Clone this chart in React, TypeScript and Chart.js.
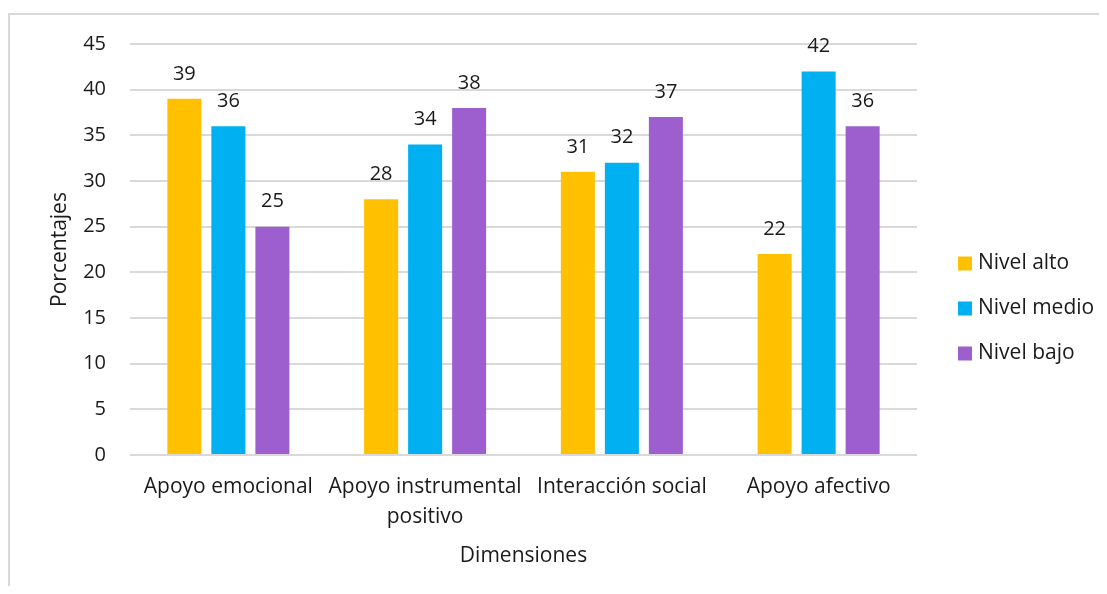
import React, { useEffect, useRef } from "react";
import { Chart, registerables } from "chart.js";

Chart.register(...registerables);

// Survey dimensions and the share (%) of respondents at each level
const categories: (string | string[])[] = [
  "Apoyo emocional",
  ["Apoyo instrumental", "positivo"],
  "Interacción social",
  "Apoyo afectivo",
];
const nivelAlto = [39, 28, 31, 22];
const nivelMedio = [36, 34, 32, 42];
const nivelBajo = [25, 38, 37, 36];
const seriesNames = ["Nivel alto", "Nivel medio", "Nivel bajo"];
const seriesColors = ["#FFC000", "#00B0F0", "#9E5FCE"];
const yTicks = { min: 0, max: 45, step: 5 };

const FONT = "'Open Sans', 'Liberation Sans', sans-serif";
const TEXT = "#1a1a1a";

// Draws the value above every bar
const valueLabels = {
  id: "valueLabels",
  afterDatasetsDraw(chart: Chart) {
    const ctx = chart.ctx;
    ctx.save();
    ctx.font = `20px ${FONT}`;
    ctx.fillStyle = TEXT;
    ctx.textAlign = "center";
    ctx.textBaseline = "middle";
    chart.data.datasets.forEach((ds, i) => {
      const meta = chart.getDatasetMeta(i);
      meta.data.forEach((bar: any, j: number) => {
        ctx.fillText(String(ds.data[j]), bar.x, bar.y - 25);
      });
    });
    ctx.restore();
  },
};

// Vertical legend at the right-hand side
const sideLegend = {
  id: "sideLegend",
  afterDraw(chart: Chart) {
    const ctx = chart.ctx;
    const area = chart.chartArea;
    const midY = (area.top + area.bottom) / 2;
    const gap = 45;
    const n = chart.data.datasets.length;
    ctx.save();
    ctx.font = `21px ${FONT}`;
    ctx.textBaseline = "middle";
    ctx.textAlign = "left";
    chart.data.datasets.forEach((ds, i) => {
      const cy = midY + (i - (n - 1) / 2) * gap + 59;
      const x = area.right + 41;
      ctx.fillStyle = ds.backgroundColor as string;
      ctx.fillRect(x, cy - 7, 14, 14);
      ctx.fillStyle = TEXT;
      ctx.fillText(ds.label as string, x + 20, cy);
    });
    ctx.restore();
  },
};

export default function App() {
  const canvasRef = useRef<HTMLCanvasElement | null>(null);

  useEffect(() => {
    if (!canvasRef.current) return;
    const chart = new Chart(canvasRef.current, {
      type: "bar",
      data: {
        labels: categories,
        datasets: [nivelAlto, nivelMedio, nivelBajo].map((values, i) => ({
          label: seriesNames[i],
          data: values,
          backgroundColor: seriesColors[i],
          barPercentage: 0.773,
          categoryPercentage: 0.671,
        })),
      },
      options: {
        animation: false,
        responsive: false,
        layout: { padding: { left: 0, top: 34, right: 182, bottom: 17 } },
        plugins: {
          legend: { display: false },
          tooltip: { enabled: false },
        },
        scales: {
          x: {
            grid: { display: false },
            border: { display: false },
            ticks: {
              color: TEXT,
              font: { family: FONT, size: 21, lineHeight: 30 / 21 },
              padding: 9,
              maxRotation: 0,
              autoSkip: false,
            },
            title: {
              display: true,
              text: "Dimensiones",
              color: TEXT,
              font: { family: FONT, size: 21 },
              padding: 0,
            },
            afterFit(scale: any) {
              scale.height = 114;
            },
          },
          y: {
            min: yTicks.min,
            max: yTicks.max,
            grid: { color: "#D9D9D9", lineWidth: 2, drawTicks: false },
            border: { display: false },
            ticks: {
              stepSize: yTicks.step,
              color: TEXT,
              font: { family: FONT, size: 20 },
              padding: 24,
            },
            title: {
              display: true,
              text: "Porcentajes",
              color: TEXT,
              font: { family: FONT, size: 21 },
              padding: { top: 39, bottom: 0 },
            },
            afterFit(scale: any) {
              scale.width = 122;
            },
          },
        },
      },
      plugins: [valueLabels, sideLegend],
    });
    return () => chart.destroy();
  }, []);

  return (
    <div
      style={{
        position: "relative",
        width: 1091,
        height: 578,
        overflow: "hidden",
        background: "#fff",
      }}
    >
      <div
        style={{
          position: "absolute",
          left: 0,
          top: 5,
          width: 1200,
          height: 700,
          border: "2px solid #D9D9D9",
        }}
      />
      <canvas
        ref={canvasRef}
        width={1091}
        height={578}
        style={{ position: "absolute", left: 0, top: 0 }}
      />
    </div>
  );
}
